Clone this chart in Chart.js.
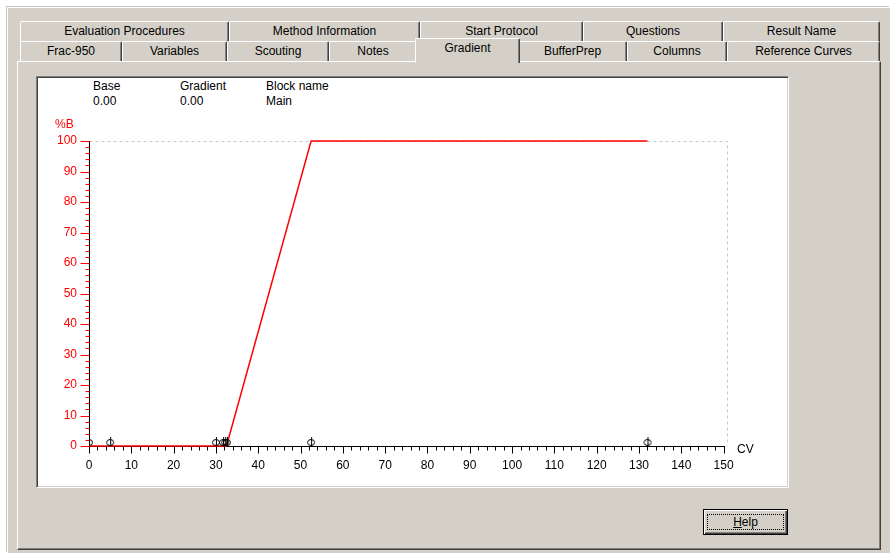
<!DOCTYPE html>
<html>
<head>
<meta charset="utf-8">
<script src="https://cdn.jsdelivr.net/npm/chart.js@4.4.0/dist/chart.umd.min.js"></script>
<style>
    body { margin: 0; width: 890px; height: 553px; background: #fff; position: relative; overflow: hidden;
           font: 12px "Liberation Sans", Arial, sans-serif; color: #000; }
    .dlg { position: absolute; left: 7px; top: 7px; right: 0; bottom: 0; background: #d4d0c8;
           border-top: 1px solid #fff; border-left: 1px solid #fff; box-shadow: -1px -1px #c8c4bc; }
    .panel { position: absolute; left: 17px; top: 61px; width: 864px; height: 489px; box-sizing: border-box;
             border: 1px solid; border-color: #fff #404040 #404040 #fff; box-shadow: inset -1px -1px #808080; }
    .tab { position: absolute; height: 21px; box-sizing: border-box; background: #d4d0c8; text-align: center;
           line-height: 19px; border: 1px solid; border-color: #fff #404040 transparent #fff; border-bottom: 0;
           border-radius: 2px 2px 0 0; box-shadow: inset -1px 0 #808080; }
    .tab.back { top: 21px; }
    .tab.front { top: 41px; }
    .tab.sel { top: 38px; height: 25px; z-index: 2; line-height: 19px; }
    .plotbox { position: absolute; left: 36px; top: 76px; width: 753px; height: 412px; box-sizing: border-box;
               background: #fff; border: 1px solid; border-color: #808080 #fff #fff #808080;
               box-shadow: inset 1px 1px #404040, inset -1px -1px #d4d0c8; }
    #chartWrap { position: absolute; left: 38px; top: 78px; width: 749px; height: 408px; }
    .hdr { position: absolute; line-height: 14px; white-space: nowrap; }
    .btn { position: absolute; left: 703px; top: 509px; width: 85px; height: 26px; box-sizing: border-box;
           border: 1px solid #000; background: #d4d0c8;
           box-shadow: inset 1px 1px #fff, inset -1px -1px #404040, inset -2px -2px #808080; }
    .btn span { position: absolute; left: 3px; top: 4px; right: 3px; bottom: 4px; border: 1px dotted #000;
                text-align: center; line-height: 15px; }
</style>
</head>
<body>
<div class="dlg"></div>
<div id="tabs"></div>
<div class="panel"></div>
<div class="plotbox"></div>
<div id="hdr"></div>
<div id="chartWrap"><canvas id="gradChart" width="749" height="408"></canvas></div>
<div class="btn"><span><u>H</u>elp</span></div>

<script>
// 分頁標籤 (後排 / 前排)
const tabsBack = ['Evaluation Procedures', 'Method Information', 'Start Protocol', 'Questions', 'Result Name'];
const tabsFront = ['Frac-950', 'Variables', 'Scouting', 'Notes', 'Gradient', 'BufferPrep', 'Columns', 'Reference Curves'];
const selectedTab = 'Gradient';

// 表頭
const headerNames = ['Base', 'Gradient', 'Block name'];
const headerValues = ['0.00', '0.00', 'Main'];

// 梯度曲線 (CV, %B)
const gradientCV = [0, 32.5, 52.5, 132];
const gradientB = [0, 0, 100, 100];

// 事件標記位置 (CV)
const markerCV = [0, 5, 30, 31.7, 32.2, 32.6, 52.5, 132];

// 軸設定
const xTicks = [0, 10, 20, 30, 40, 50, 60, 70, 80, 90, 100, 110, 120, 130, 140, 150];
const yTicks = [0, 10, 20, 30, 40, 50, 60, 70, 80, 90, 100];
const xTitle = 'CV';
const yTitle = '%B';

const FONT = '"Liberation Sans", Arial, sans-serif';

// --- 分頁 ---
const backEdges = [20, 229, 420, 583, 723, 880];
const frontEdges = [20, 122, 227, 329, 417, 518, 627, 727, 880];
function buildTabs() {
    const box = document.getElementById('tabs');
    let html = '';
    tabsBack.forEach((t, i) => {
        html += `<div class="tab back" style="left:${backEdges[i]}px;width:${backEdges[i + 1] - backEdges[i]}px">${t}</div>`;
    });
    tabsFront.forEach((t, i) => {
        let l = frontEdges[i], w = frontEdges[i + 1] - frontEdges[i];
        const sel = t === selectedTab;
        if (sel) { l -= 2; w += 4; }
        html += `<div class="tab front${sel ? ' sel' : ''}" style="left:${l}px;width:${w}px">${t}</div>`;
    });
    box.innerHTML = html;
}

function buildHeader() {
    const cols = [93, 180, 266];
    let html = '';
    headerNames.forEach((n, i) => {
        html += `<div class="hdr" style="left:${cols[i]}px;top:79px">${n}</div>`;
        html += `<div class="hdr" style="left:${cols[i]}px;top:94px">${headerValues[i]}</div>`;
    });
    document.getElementById('hdr').innerHTML = html;
}

// ϕ 形狀的標記
function makeMarker() {
    const c = document.createElement('canvas');
    c.width = 10; c.height = 20;
    const g = c.getContext('2d');
    g.strokeStyle = '#000';
    g.lineWidth = 1;
    g.beginPath();
    g.ellipse(5, 6.5, 3.5, 3, 0, 0, Math.PI * 2);
    g.stroke();
    g.beginPath();
    g.moveTo(5.5, 1);
    g.lineTo(5.5, 10);
    g.stroke();
    return c;
}

// 畫軸線、刻度、虛線框與軸標題
const axesPlugin = {
    id: 'winAxes',
    beforeDatasetsDraw(chart) {
        const { ctx, chartArea: a, scales: { x, y } } = chart;
        const x0 = Math.round(x.getPixelForValue(0)) + 0.5;
        const yb = Math.round(y.getPixelForValue(0)) + 0.5;
        const xEnd = Math.round(x.getPixelForValue(xTicks[xTicks.length - 1])) + 1;
        ctx.save();
        ctx.lineWidth = 1;

        ctx.strokeStyle = '#c8c8c8';
        ctx.setLineDash([3, 3]);
        ctx.beginPath();
        ctx.moveTo(x0, Math.round(a.top) + 0.5);
        ctx.lineTo(Math.round(a.right) + 0.5, Math.round(a.top) + 0.5);
        ctx.lineTo(Math.round(a.right) + 0.5, yb);
        ctx.stroke();
        ctx.setLineDash([]);

        ctx.strokeStyle = '#000';
        ctx.beginPath();
        ctx.moveTo(x0, Math.round(a.top));
        ctx.lineTo(x0, yb);
        ctx.lineTo(xEnd, yb);
        ctx.stroke();

        ctx.strokeStyle = '#ff0000';
        ctx.beginPath();
        for (let v = 0; v <= 100; v += 2) {
            const py = Math.round(y.getPixelForValue(v)) + 0.5;
            const len = v % 10 === 0 ? 9 : 4;
            ctx.moveTo(x0 - len, py);
            ctx.lineTo(x0, py);
        }
        ctx.stroke();

        ctx.strokeStyle = '#000';
        ctx.beginPath();
        for (let v = 0; v <= 150; v += 2) {
            const px = Math.round(x.getPixelForValue(v)) + 0.5;
            const len = v % 10 === 0 ? 7 : 4;
            ctx.moveTo(px, yb);
            ctx.lineTo(px, yb + len);
        }
        ctx.stroke();

        ctx.font = '12px ' + FONT;
        ctx.textBaseline = 'middle';
        ctx.fillStyle = '#ff0000';
        ctx.fillText(yTitle, a.left - 34, a.top - 16);
        ctx.fillStyle = '#000';
        ctx.fillText(xTitle, a.right + 10, yb + 3);
        ctx.restore();
    }
};

function renderChart() {
    const ctx = document.getElementById('gradChart');
    new Chart(ctx, {
        type: 'scatter',
        data: {
            datasets: [
                {
                    data: markerCV.map(cv => ({ x: cv, y: 0 })),
                    pointStyle: makeMarker(),
                    pointRadius: 5,
                    showLine: false,
                    clip: { left: 0, top: false, right: false, bottom: false }
                },
                {
                    data: gradientCV.map((cv, i) => ({ x: cv, y: gradientB[i] })),
                    showLine: true,
                    borderColor: '#ff0000',
                    borderWidth: 1.5,
                    pointRadius: 0,
                    tension: 0,
                    clip: false
                }
            ]
        },
        options: {
            responsive: false,
            animation: false,
            devicePixelRatio: 1,
            layout: { padding: { left: 0, top: 63, right: 60, bottom: 0 } },
            plugins: { legend: { display: false }, tooltip: { enabled: false } },
            scales: {
                x: {
                    type: 'linear',
                    min: 0,
                    max: 150.8,
                    afterBuildTicks: s => { s.ticks = xTicks.map(v => ({ value: v })); },
                    afterFit: s => { s.height = 40; },
                    ticks: { color: '#000', font: { size: 12, family: FONT }, padding: 5, maxRotation: 0, autoSkip: false },
                    grid: { drawOnChartArea: false, drawTicks: true, tickLength: 7, tickColor: 'transparent' },
                    border: { display: false }
                },
                y: {
                    min: 0,
                    max: 100,
                    afterBuildTicks: s => { s.ticks = yTicks.map(v => ({ value: v })); },
                    afterFit: s => { s.width = 51; },
                    ticks: { color: '#ff0000', font: { size: 12, family: FONT }, padding: 3 },
                    grid: { drawOnChartArea: false, drawTicks: true, tickLength: 9, tickColor: 'transparent' },
                    border: { display: false }
                }
            }
        },
        plugins: [axesPlugin]
    });
}

buildTabs();
buildHeader();
renderChart();
</script>
</body>
</html>
